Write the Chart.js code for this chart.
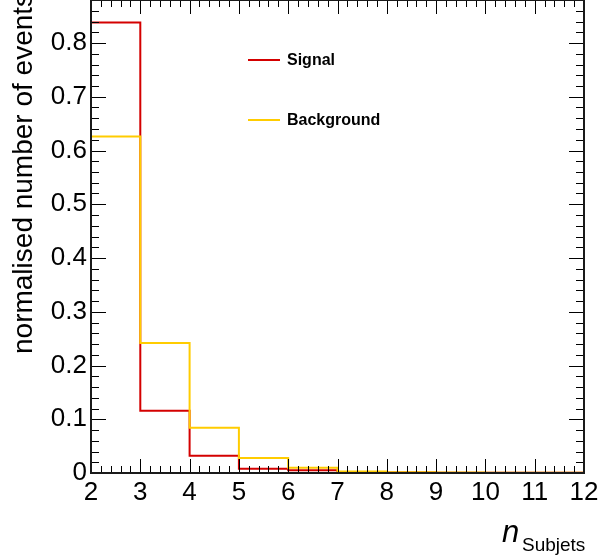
<!DOCTYPE html>
<html>
<head>
<meta charset="utf-8">
<script src="https://cdn.jsdelivr.net/npm/chart.js@4.4.0/dist/chart.umd.min.js"></script>
<style>
  html, body { margin: 0; padding: 0; background: #fff; }
  #wrap { width: 598px; height: 560px; }
</style>
</head>
<body>
<div id="wrap"><canvas id="c" width="598" height="560"></canvas></div>
<script>
/* ========== Data ========== */
const binEdges   = [2, 3, 4, 5, 6, 7, 8, 9, 10, 11, 12];
const signal     = [0.838, 0.116, 0.032, 0.008, 0.005, 0.002, 0.001, 0.0006, 0.0004, 0.0003];
const background = [0.626, 0.242, 0.084, 0.028, 0.010, 0.003, 0.0015, 0.0008, 0.0005, 0.0004];
const legendLabels = ['Signal', 'Background'];

const RED  = '#d40000';
const GOLD = '#ffcc00';
const FONT = "'Liberation Sans', Arial, Helvetica, sans-serif";

// histogram as step points: lower edges, plus closing point at last edge
function toSteps(vals) {
  const pts = vals.map((v, i) => ({ x: binEdges[i], y: v }));
  pts.push({ x: binEdges[binEdges.length - 1], y: vals[vals.length - 1] });
  return pts;
}

/* ========== Frame + inside ticks (ROOT style) ========== */
const framePlugin = {
  id: 'frame',
  afterDatasetsDraw(chart) {
    const { ctx, chartArea: a, scales: { x, y } } = chart;
    ctx.save();
    ctx.strokeStyle = '#000';
    ctx.lineWidth = 1;
    ctx.beginPath();
    // x ticks, bottom and top
    for (let v = x.min; v <= x.max + 1e-9; v += 0.2) {
      const px = Math.round(x.getPixelForValue(v)) + 0.5;
      const major = Math.abs(v - Math.round(v)) < 1e-6;
      const len = major ? 14 : 7;
      ctx.moveTo(px, a.bottom); ctx.lineTo(px, a.bottom - len);
      ctx.moveTo(px, a.top);    ctx.lineTo(px, a.top + len);
    }
    // y ticks, left and right
    for (let i = 0; i * 0.02 <= y.max + 1e-9; i++) {
      const v = i * 0.02;
      const py = Math.round(y.getPixelForValue(v)) + 0.5;
      const len = i % 5 === 0 ? 15 : 8;
      ctx.moveTo(a.left, py);  ctx.lineTo(a.left + len, py);
      ctx.moveTo(a.right, py); ctx.lineTo(a.right - len, py);
    }
    ctx.stroke();
    ctx.lineWidth = 2;
    ctx.strokeStyle = '#1a1a1a';
    ctx.strokeRect(a.left, a.top, a.right - a.left, a.bottom - a.top);
    ctx.restore();
  }
};

/* ========== Legend + axis titles ========== */
const textPlugin = {
  id: 'texts',
  afterDraw(chart) {
    const { ctx } = chart;
    ctx.save();
    // legend
    const cols = [RED, GOLD];
    const ys = [60, 120];
    legendLabels.forEach((lab, i) => {
      ctx.strokeStyle = cols[i];
      ctx.lineWidth = 2;
      ctx.beginPath();
      ctx.moveTo(248, ys[i]); ctx.lineTo(280, ys[i]);
      ctx.stroke();
      ctx.fillStyle = '#000';
      ctx.font = 'bold 16px ' + FONT;
      ctx.textBaseline = 'middle';
      ctx.textAlign = 'left';
      ctx.fillText(lab, 287, ys[i] + 1);
    });
    // y title
    ctx.textBaseline = 'alphabetic';
    ctx.font = '28px ' + FONT;
    ctx.save();
    ctx.translate(32, 354);
    ctx.rotate(-Math.PI / 2);
    ctx.fillText('normalised number of events', 0, 0);
    ctx.restore();
    // x title
    ctx.font = 'italic 31px ' + FONT;
    ctx.fillText('n', 502, 542);
    ctx.font = '19px ' + FONT;
    ctx.fillText('Subjets', 522, 551);
    ctx.restore();
  }
};

/* ========== Chart ========== */
new Chart(document.getElementById('c'), {
  type: 'line',
  data: {
    datasets: [
      {
        label: 'Signal',
        data: toSteps(signal),
        borderColor: RED,
        borderWidth: 2,
        stepped: 'before',
        pointRadius: 0,
        fill: false,
        order: 2
      },
      {
        label: 'Background',
        data: toSteps(background),
        borderColor: GOLD,
        borderWidth: 2,
        stepped: 'before',
        pointRadius: 0,
        fill: false,
        order: 1
      }
    ]
  },
  options: {
    responsive: false,
    animation: false,
    layout: { padding: { left: 0, right: 14, top: 0, bottom: 0 } },
    plugins: { legend: { display: false }, tooltip: { enabled: false } },
    scales: {
      x: {
        type: 'linear',
        min: 2,
        max: 12,
        grid: { display: false, drawTicks: false },
        border: { display: false },
        ticks: {
          stepSize: 1,
          padding: 4,
          color: '#000',
          font: { family: FONT, size: 26 },
          maxRotation: 0
        },
        afterFit(s) { s.height = 87; s.paddingLeft = 0; s.paddingRight = 0; }
      },
      y: {
        min: 0,
        max: 0.88,
        grid: { display: false, drawTicks: false },
        border: { display: false },
        ticks: {
          stepSize: 0.1,
          includeBounds: false,
          padding: 4,
          color: '#000',
          font: { family: FONT, size: 26 },
          callback: v => (v === 0 ? '0' : v.toFixed(1))
        },
        afterFit(s) { s.width = 91; s.paddingTop = 0; s.paddingBottom = 0; }
      }
    }
  },
  plugins: [framePlugin, textPlugin]
});
</script>
</body>
</html>
